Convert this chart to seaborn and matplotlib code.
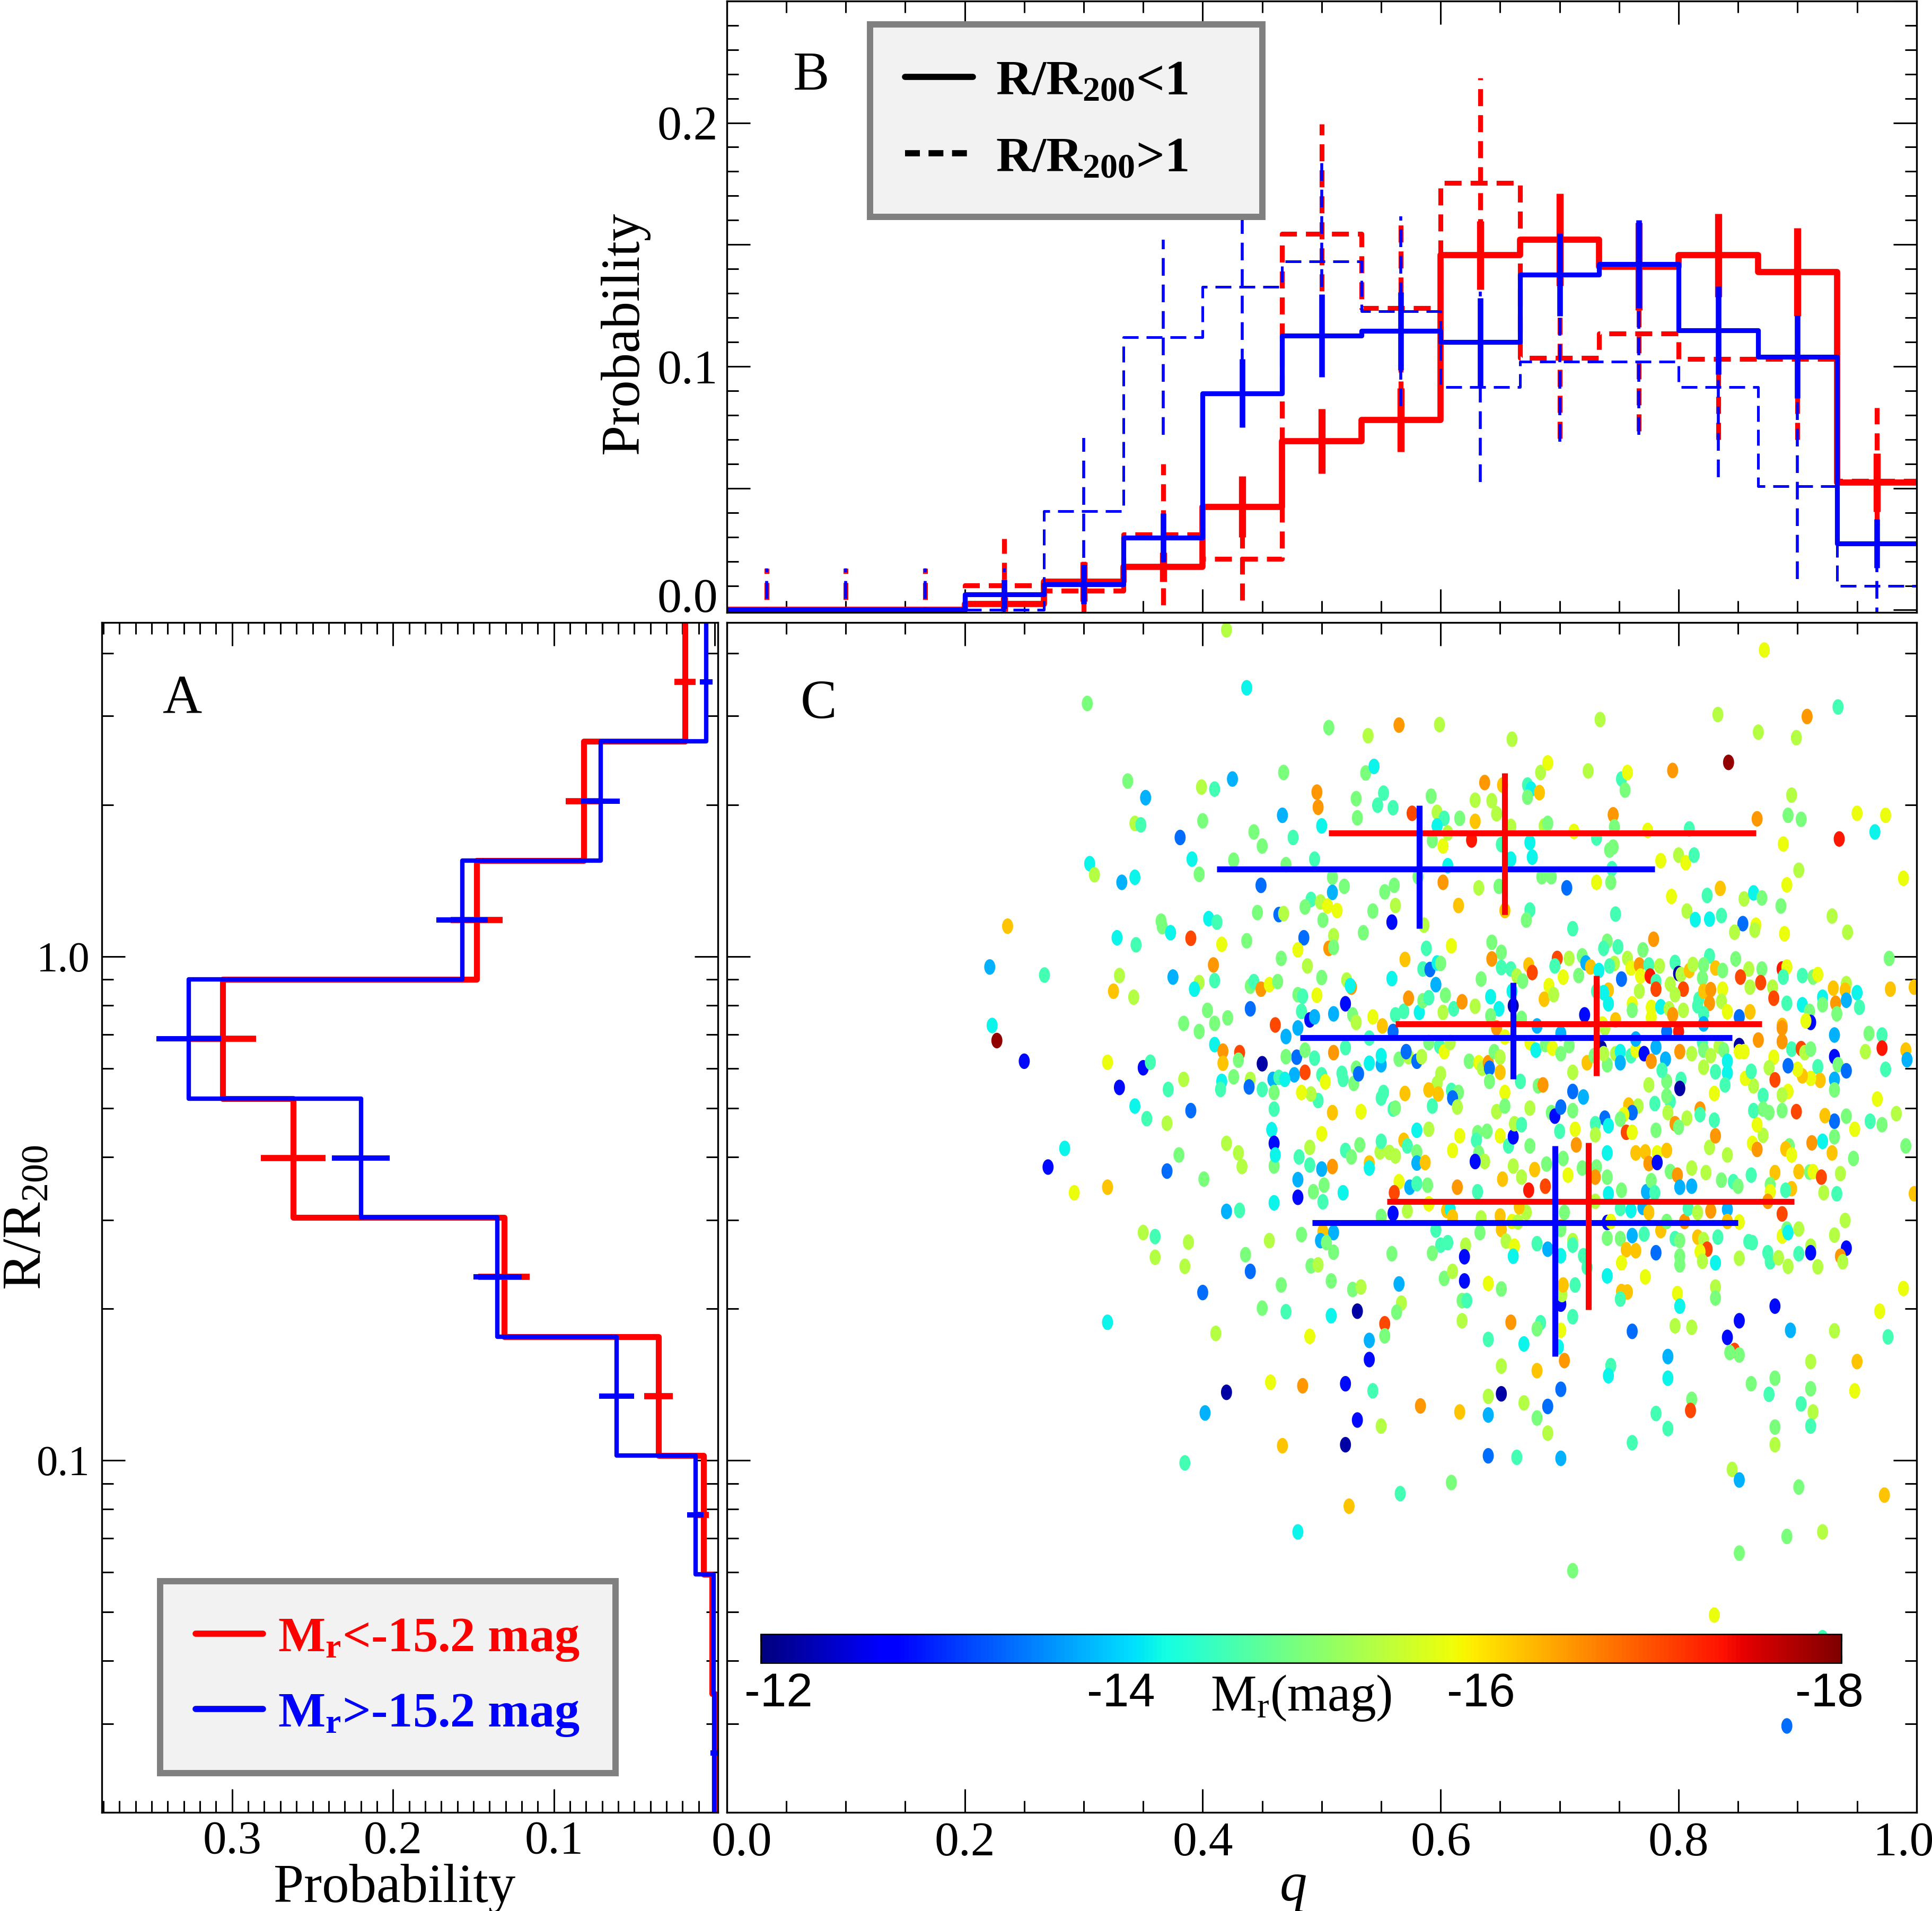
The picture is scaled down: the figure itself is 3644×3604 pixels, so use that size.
import numpy as np
import pandas as pd
import seaborn as sns
import matplotlib as mpl
import matplotlib.pyplot as plt
import matplotlib.transforms as mtrans
from matplotlib.path import Path
from matplotlib.lines import Line2D
from matplotlib.ticker import (MultipleLocator, FixedLocator, FixedFormatter,
                               LogLocator, FuncFormatter, NullFormatter)

sns.set_theme(style="white")
plt.rcParams['font.family'] = ['Liberation Serif', 'DejaVu Serif']
plt.rcParams['mathtext.fontset'] = 'custom'
plt.rcParams['mathtext.rm'] = 'Liberation Serif'
plt.rcParams['mathtext.it'] = 'Liberation Serif:italic'
plt.rcParams['mathtext.bf'] = 'Liberation Serif:bold'
plt.rcParams['axes.edgecolor'] = 'black'
plt.rcParams['axes.linewidth'] = 1.2
plt.rcParams['text.color'] = 'black'
plt.rcParams['axes.labelcolor'] = 'black'
plt.rcParams['xtick.color'] = 'black'
plt.rcParams['ytick.color'] = 'black'

# ---------------- panel A : R/R200 distribution (bins from small to large R)
r_edges = np.logspace(np.log10(0.02), np.log10(4.6), 11)
probA_bright = [0.000, 0.0015, 0.007, 0.035, 0.131, 0.262, 0.306, 0.148, 0.0815, 0.0185]
errA_bright = [0.0005, 0.0015, 0.0035, 0.009, 0.016, 0.020, 0.021, 0.016, 0.011, 0.0065]
probA_faint = [0.0005, 0.0008, 0.012, 0.061, 0.135, 0.220, 0.327, 0.157, 0.071, 0.0053]
errA_faint = [0.002, 0.001, 0.005, 0.011, 0.015, 0.018, 0.020, 0.016, 0.012, 0.004]

# ---------------- panel B : q distribution, inside / outside R200
q_edges = np.linspace(0, 1, 16)
probB_in_bright = [0, 0, 0, 0.0024, 0.0116, 0.0177, 0.0424, 0.0694, 0.078, 0.1456, 0.152, 0.141, 0.1456, 0.1387, 0.0524]
errB_in_bright = [0, 0, 0, 0.003, 0.008, 0.006, 0.0125, 0.0133, 0.013, 0.014, 0.019, 0.018, 0.017, 0.018, 0.012]
probB_in_faint = [0, 0, 0, 0.0065, 0.0105, 0.0298, 0.089, 0.1126, 0.1145, 0.110, 0.1376, 0.142, 0.1148, 0.104, 0.0274]
errB_in_faint = [0, 0, 0, 0.006, 0.008, 0.010, 0.014, 0.017, 0.016, 0.018, 0.017, 0.018, 0.018, 0.017, 0.010]
probB_out_bright = [0, 0, 0, 0.0102, 0.008, 0.031, 0.021, 0.1545, 0.124, 0.1753, 0.1035, 0.1134, 0.103, 0.103, 0.053]
errB_out_bright = [0.017, 0.017, 0.017, 0.019, 0.012, 0.029, 0.017, 0.045, 0.037, 0.043, 0.033, 0.040, 0.033, 0.033, 0.030]
probB_out_faint = [0, 0, 0, 0, 0.0406, 0.112, 0.1326, 0.143, 0.1226, 0.0916, 0.102, 0.102, 0.0916, 0.0508, 0.010]
errB_out_faint = [0.017, 0.017, 0.017, 0.017, 0.030, 0.040, 0.0435, 0.043, 0.039, 0.039, 0.033, 0.030, 0.037, 0.038, 0.027]

# ---------------- panel C : medians and ranges in three R bins
crossC_bright_q = [0.654, 0.731, 0.724]
crossC_bright_qlo = [0.506, 0.562, 0.555]
crossC_bright_qhi = [0.865, 0.870, 0.897]
crossC_bright_R = [1.758, 0.734, 0.326]
crossC_bright_Rlo = [1.21, 0.580, 0.199]
crossC_bright_Rhi = [2.31, 0.916, 0.427]
crossC_faint_q = [0.582, 0.661, 0.696]
crossC_faint_qlo = [0.412, 0.482, 0.492]
crossC_faint_qhi = [0.780, 0.845, 0.850]
crossC_faint_R = [1.49, 0.689, 0.296]
crossC_faint_Rlo = [1.137, 0.571, 0.161]
crossC_faint_Rhi = [1.995, 0.888, 0.421]

# galaxies: (q, log10 R/R200, M_r), grouped by region of the panel
pts_upper_left = [
    (0.420, 0.648, -15.4), (0.437, 0.533, -14.2), (0.303, 0.502, -15.0), (0.337, 0.348, -15.0), (0.352, 0.315, -13.8),
    (0.399, 0.336, -15.4), (0.410, 0.332, -14.6), (0.425, 0.352, -13.8), (0.343, 0.264, -15.4), (0.348, 0.261, -14.6),
    (0.381, 0.236, -13.4), (0.400, 0.269, -15.0), (0.443, 0.247, -15.0), (0.450, 0.219, -15.0), (0.391, 0.193, -14.2),
    (0.426, 0.191, -15.0), (0.397, 0.163, -15.0), (0.305, 0.184, -14.2), (0.309, 0.162, -15.4), (0.332, 0.147, -13.8),
    (0.343, 0.157, -14.2), (0.449, 0.141, -13.4), (0.236, 0.060, -16.2), (0.221, -0.021, -13.8), (0.267, -0.037, -14.6),
    (0.328, 0.037, -14.2), (0.344, 0.023, -14.6), (0.365, 0.070, -15.0), (0.366, 0.059, -15.0), (0.373, 0.047, -14.2),
    (0.390, 0.036, -17.0), (0.405, 0.075, -14.2), (0.412, 0.068, -14.6), (0.416, 0.024, -15.8), (0.437, 0.031, -15.0),
    (0.409, -0.017, -16.5), (0.446, 0.087, -15.0), (0.330, -0.038, -15.4), (0.325, -0.069, -16.2), (0.342, -0.081, -15.4),
    (0.375, -0.041, -13.8), (0.397, -0.052, -15.4), (0.393, -0.065, -14.2), (0.410, -0.048, -14.6), (0.440, -0.059, -15.0),
    (0.443, -0.050, -14.6), (0.449, -0.065, -16.5), (0.456, -0.056, -15.8), (0.440, -0.104, -13.4), (0.223, -0.137, -14.2),
    (0.227, -0.167, -17.9), (0.250, -0.208, -12.8), (0.320, -0.210, -15.8), (0.350, -0.221, -12.8), (0.356, -0.210, -14.6),
    (0.330, -0.260, -12.8), (0.384, -0.133, -15.0), (0.397, -0.149, -15.0), (0.404, -0.107, -15.0), (0.410, -0.133, -15.0),
    (0.421, -0.122, -15.0), (0.410, -0.175, -14.2), (0.417, -0.188, -16.5), (0.417, -0.212, -16.2), (0.431, -0.191, -17.0),
    (0.430, -0.206, -15.0), (0.450, -0.213, -12.2), (0.426, -0.239, -15.0), (0.416, -0.248, -14.2), (0.415, -0.264, -14.6),
    (0.384, -0.244, -15.4), (0.371, -0.264, -14.6), (0.343, -0.297, -14.2), (0.353, -0.322, -14.6), (0.370, -0.331, -15.4),
    (0.390, -0.306, -13.4), (0.440, -0.244, -15.4), (0.439, -0.259, -13.4), (0.450, -0.264, -14.6), (0.459, -0.244, -13.8),
    (0.460, -0.270, -15.0), (0.460, -0.303, -14.6), (0.458, -0.344, -14.2), (0.460, -0.371, -12.8), (0.420, -0.371, -15.4),
    (0.430, -0.390, -15.4), (0.433, -0.417, -15.4), (0.460, -0.416, -15.0), (0.284, -0.381, -14.2), (0.270, -0.418, -12.8),
    (0.380, -0.394, -15.0), (0.370, -0.426, -13.4), (0.401, -0.442, -15.0), (0.292, -0.469, -15.8), (0.320, -0.458, -16.2),
]
pts_upper_mid = [
    (0.506, 0.454, -15.0), (0.539, 0.438, -15.4), (0.565, 0.459, -16.5), (0.599, 0.460, -15.4), (0.660, 0.431, -15.4),
    (0.468, 0.365, -15.0), (0.537, 0.364, -15.0), (0.544, 0.377, -14.2), (0.496, 0.326, -16.5), (0.497, 0.296, -16.5),
    (0.467, 0.280, -13.8), (0.500, 0.259, -14.2), (0.476, 0.236, -14.6), (0.529, 0.313, -15.0), (0.530, 0.275, -15.0),
    (0.552, 0.324, -14.6), (0.547, 0.300, -14.6), (0.560, 0.295, -14.6), (0.576, 0.284, -17.0), (0.592, 0.318, -15.0),
    (0.597, 0.286, -15.4), (0.603, 0.274, -14.6), (0.597, 0.259, -14.2), (0.602, 0.219, -15.8), (0.593, 0.230, -15.0),
    (0.606, 0.245, -15.4), (0.616, 0.274, -15.0), (0.629, 0.310, -15.4), (0.629, 0.268, -16.2), (0.626, 0.231, -17.3),
    (0.637, 0.345, -16.5), (0.643, 0.309, -15.4), (0.647, 0.283, -15.4), (0.652, 0.340, -16.2), (0.659, 0.258, -15.4),
    (0.651, 0.222, -14.6), (0.659, 0.193, -14.2), (0.673, 0.340, -14.6), (0.676, 0.332, -14.2), (0.673, 0.316, -15.0),
    (0.683, 0.325, -16.2), (0.684, 0.365, -15.4), (0.690, 0.384, -15.8), (0.724, 0.368, -15.4), (0.687, 0.259, -15.4),
    (0.690, 0.264, -15.0), (0.675, 0.226, -14.2), (0.677, 0.197, -14.2), (0.712, 0.248, -15.8),
    (0.494, 0.193, -14.6), (0.470, 0.182, -15.0), (0.509, 0.157, -15.0), (0.509, 0.127, -13.8), (0.519, 0.139, -15.0),
    (0.491, 0.113, -14.6), (0.486, 0.098, -15.0), (0.499, 0.108, -15.4), (0.505, 0.100, -15.8), (0.513, 0.091, -15.8),
    (0.501, 0.072, -15.0), (0.464, 0.083, -13.4), (0.468, 0.085, -15.4), (0.553, 0.128, -15.0), (0.561, 0.141, -15.0),
    (0.562, 0.101, -15.4), (0.543, 0.090, -15.0), (0.559, 0.068, -12.8), (0.535, 0.047, -15.0), (0.510, 0.041, -15.4),
    (0.485, 0.037, -13.4), (0.480, 0.013, -15.8), (0.506, 0.016, -16.5), (0.510, 0.018, -15.0), (0.466, -0.004, -15.0),
    (0.488, -0.019, -15.4), (0.581, 0.158, -15.0), (0.586, 0.062, -15.4), (0.606, 0.180, -14.2), (0.602, 0.147, -16.5),
    (0.632, 0.136, -15.4), (0.649, 0.139, -15.0), (0.615, 0.101, -16.2), (0.654, 0.091, -16.2), (0.685, 0.158, -15.0),
    (0.693, 0.158, -15.0), (0.706, 0.136, -13.4), (0.675, 0.092, -14.6), (0.672, 0.072, -15.0), (0.711, 0.055, -14.6),
    (0.609, 0.021, -15.8), (0.588, 0.016, -14.6), (0.570, -0.006, -16.2), (0.585, -0.025, -14.6), (0.591, -0.026, -13.4),
    (0.597, -0.013, -14.2), (0.600, -0.014, -15.0), (0.596, -0.056, -13.8), (0.559, -0.044, -14.2), (0.643, 0.028, -15.0),
    (0.651, 0.008, -15.0), (0.643, -0.005, -16.5), (0.651, -0.022, -14.6), (0.659, -0.025, -14.6), (0.664, -0.039, -15.4),
    (0.669, -0.049, -15.0), (0.674, -0.017, -16.2), (0.677, -0.032, -17.0), (0.634, -0.045, -15.0), (0.698, -0.004, -17.0),
    (0.696, -0.019, -14.6), (0.708, -0.004, -15.4), (0.703, -0.041, -15.8), (0.716, -0.038, -15.0), (0.719, 0.001, -15.0),
    (0.722, -0.013, -13.8), (0.691, -0.058, -15.8), (0.687, -0.085, -16.2), (0.695, -0.076, -15.4), (0.660, -0.069, -14.2),
    (0.500, -0.042, -15.0), (0.463, -0.050, -15.0), (0.521, -0.047, -15.4), (0.525, -0.061, -16.5), (0.524, -0.058, -14.2),
    (0.496, -0.077, -15.8), (0.480, -0.076, -15.0), (0.484, -0.079, -14.6), (0.483, -0.109, -14.6), (0.520, -0.094, -12.8),
    (0.510, -0.114, -13.8), (0.526, -0.116, -15.0), (0.529, -0.131, -15.4), (0.490, -0.126, -12.8), (0.494, -0.120, -13.8),
    (0.461, -0.136, -17.0), (0.480, -0.142, -13.8), (0.470, -0.159, -13.8), (0.479, -0.200, -13.4), (0.470, -0.199, -15.0),
    (0.486, -0.186, -15.0), (0.494, -0.202, -14.6), (0.486, -0.230, -17.0), (0.477, -0.235, -13.8), (0.464, -0.240, -14.6),
    (0.469, -0.244, -14.2), (0.500, -0.235, -14.6), (0.503, -0.249, -15.8), (0.510, -0.191, -16.5), (0.520, -0.181, -14.6),
    (0.517, -0.232, -14.6), (0.518, -0.244, -14.6), (0.527, -0.252, -15.0), (0.529, -0.222, -15.0), (0.531, -0.233, -13.4),
    (0.540, -0.212, -14.2), (0.550, -0.215, -13.8), (0.550, -0.197, -14.2), (0.540, -0.162, -14.6), (0.543, -0.120, -15.8),
    (0.551, -0.138, -16.2), (0.560, -0.149, -13.4), (0.562, -0.116, -14.6), (0.569, -0.109, -14.6), (0.573, -0.083, -16.5),
    (0.582, -0.111, -14.2), (0.585, -0.088, -15.0), (0.590, -0.082, -14.6), (0.604, -0.077, -15.0), (0.602, -0.111, -15.4),
    (0.611, -0.104, -14.6), (0.618, -0.090, -16.5), (0.629, -0.099, -15.4), (0.642, -0.080, -14.2), (0.649, -0.104, -14.2),
    (0.642, -0.118, -15.0), (0.647, -0.142, -16.5), (0.661, -0.098, -12.2), (0.668, -0.123, -15.0), (0.681, -0.138, -13.8),
    (0.654, -0.160, -15.8), (0.675, -0.171, -15.8), (0.680, -0.186, -14.2), (0.688, -0.175, -15.0), (0.694, -0.182, -15.8),
    (0.701, -0.193, -15.0), (0.701, -0.153, -13.8), (0.708, -0.177, -15.0), (0.721, -0.116, -12.8), (0.723, -0.211, -16.2),
    (0.565, -0.204, -15.0), (0.573, -0.199, -15.4), (0.580, -0.208, -13.4), (0.584, -0.199, -15.4), (0.571, -0.189, -13.4),
    (0.590, -0.171, -15.0), (0.599, -0.178, -14.6), (0.603, -0.189, -15.8), (0.608, -0.171, -15.4), (0.624, -0.208, -15.0),
    (0.632, -0.211, -15.8), (0.635, -0.222, -15.4), (0.640, -0.211, -16.5), (0.641, -0.222, -13.4), (0.645, -0.189, -15.0),
    (0.650, -0.200, -15.4), (0.650, -0.230, -16.2), (0.641, -0.248, -15.0), (0.654, -0.270, -15.8), (0.667, -0.248, -14.6),
    (0.682, -0.257, -15.0), (0.686, -0.255, -16.5), (0.711, -0.230, -15.4), (0.711, -0.268, -13.4), (0.720, -0.279, -13.8),
    (0.600, -0.233, -15.4), (0.597, -0.252, -15.4), (0.590, -0.265, -16.2), (0.598, -0.273, -16.2), (0.609, -0.266, -14.6),
    (0.615, -0.270, -15.0), (0.610, -0.281, -13.4), (0.614, -0.299, -15.4), (0.593, -0.297, -14.6), (0.570, -0.272, -16.2),
    (0.552, -0.270, -14.6), (0.550, -0.281, -14.6), (0.560, -0.303, -14.6), (0.562, -0.301, -15.0), (0.533, -0.308, -15.8),
    (0.509, -0.310, -16.2), (0.497, -0.286, -14.6), (0.491, -0.273, -15.4), (0.483, -0.270, -15.8), (0.461, -0.394, -14.2),
    (0.500, -0.352, -15.8), (0.490, -0.379, -15.4), (0.481, -0.398, -14.6), (0.490, -0.414, -14.6), (0.500, -0.422, -13.8),
    (0.509, -0.417, -16.5), (0.480, -0.443, -13.8), (0.502, -0.454, -15.0), (0.493, -0.467, -15.0), (0.480, -0.478, -12.8),
    (0.518, -0.469, -14.2), (0.520, -0.385, -14.6), (0.525, -0.398, -15.0), (0.532, -0.374, -15.0), (0.540, -0.410, -16.2),
    (0.540, -0.420, -14.2), (0.549, -0.388, -15.4), (0.550, -0.367, -14.6), (0.557, -0.389, -15.4), (0.562, -0.396, -15.4),
    (0.569, -0.365, -16.2), (0.572, -0.376, -14.6), (0.580, -0.345, -14.2), (0.590, -0.343, -15.4), (0.580, -0.388, -15.0),
    (0.580, -0.410, -13.8), (0.587, -0.409, -16.2), (0.565, -0.447, -15.8), (0.574, -0.458, -13.8), (0.580, -0.451, -14.6),
    (0.589, -0.454, -15.0), (0.561, -0.469, -17.0), (0.610, -0.385, -15.8), (0.616, -0.356, -15.8), (0.614, -0.458, -16.5),
    (0.631, -0.350, -15.0), (0.630, -0.365, -14.6), (0.639, -0.347, -15.0), (0.632, -0.390, -15.0), (0.637, -0.407, -15.4),
    (0.629, -0.407, -12.8), (0.631, -0.467, -14.6), (0.647, -0.308, -15.4), (0.654, -0.297, -15.0), (0.650, -0.356, -15.8),
    (0.657, -0.376, -14.6), (0.661, -0.358, -12.8), (0.662, -0.332, -15.4), (0.668, -0.334, -14.6), (0.661, -0.416, -15.4),
    (0.652, -0.442, -16.2), (0.668, -0.438, -15.4), (0.675, -0.301, -15.4), (0.675, -0.376, -15.0), (0.679, -0.423, -16.2),
    (0.674, -0.464, -17.3), (0.688, -0.456, -17.0), (0.689, -0.412, -15.0), (0.693, -0.310, -15.0), (0.696, -0.317, -12.8),
    (0.701, -0.299, -13.4), (0.700, -0.347, -14.6), (0.703, -0.401, -15.0), (0.707, -0.434, -15.8), (0.713, -0.343, -15.8),
    (0.714, -0.374, -16.5), (0.711, -0.306, -15.0), (0.719, -0.420, -15.0),
]
pts_upper_right = [
    (0.872, 0.608, -15.8), (0.934, 0.495, -14.6), (0.908, 0.476, -16.5), (0.833, 0.480, -15.4), (0.867, 0.445, -15.4),
    (0.899, 0.434, -15.4), (0.734, 0.470, -15.4), (0.842, 0.385, -17.9), (0.795, 0.369, -16.5), (0.752, 0.352, -14.6),
    (0.757, 0.365, -15.8), (0.755, 0.330, -15.0), (0.895, 0.320, -15.4), (0.745, 0.281, -16.5), (0.866, 0.273, -16.5),
    (0.892, 0.280, -15.0), (0.903, 0.272, -15.0), (0.950, 0.284, -15.8), (0.974, 0.280, -15.8), (0.935, 0.233, -17.3),
    (0.965, 0.247, -14.2), (0.888, 0.223, -15.8), (0.746, 0.257, -15.0), (0.774, 0.250, -15.8), (0.809, 0.253, -14.6),
    (0.731, 0.235, -14.6), (0.742, 0.211, -15.0), (0.745, 0.217, -15.0), (0.785, 0.190, -15.8), (0.800, 0.201, -15.4),
    (0.806, 0.186, -15.8), (0.813, 0.201, -14.6), (0.744, 0.174, -14.6), (0.731, 0.147, -15.8), (0.743, 0.147, -15.0),
    (0.901, 0.171, -15.4), (0.891, 0.142, -15.8), (0.989, 0.155, -15.8), (0.794, 0.119, -15.8), (0.824, 0.121, -14.6),
    (0.835, 0.135, -16.2), (0.855, 0.114, -15.4), (0.863, 0.126, -14.2), (0.870, 0.116, -15.0), (0.886, 0.100, -15.0),
    (0.747, 0.084, -14.6), (0.807, 0.090, -15.4), (0.814, 0.073, -14.2), (0.826, 0.074, -14.2), (0.836, 0.081, -14.6),
    (0.854, 0.065, -13.4), (0.865, 0.062, -15.8), (0.864, 0.052, -15.4), (0.847, 0.048, -15.4), (0.889, 0.045, -15.8),
    (0.929, 0.080, -15.4), (0.942, 0.048, -15.4), (0.977, -0.004, -15.0), (0.779, 0.034, -16.5), (0.740, 0.030, -15.0),
    (0.737, 0.016, -14.6), (0.749, 0.019, -14.6), (0.770, 0.013, -15.0), (0.826, 0.001, -14.6), (0.848, -0.005, -15.0),
    (0.746, -0.014, -15.4), (0.757, -0.004, -15.4), (0.742, -0.019, -14.6), (0.726, -0.021, -16.2), (0.733, -0.028, -14.2),
    (0.752, -0.045, -13.4), (0.760, -0.023, -15.8), (0.767, -0.017, -16.5), (0.775, -0.017, -14.6), (0.768, -0.039, -15.8),
    (0.776, -0.039, -17.3), (0.784, -0.019, -15.4), (0.781, -0.050, -14.6), (0.781, -0.065, -17.0), (0.797, -0.012, -14.6),
    (0.800, -0.034, -12.2), (0.802, -0.036, -15.4), (0.809, -0.028, -16.2), (0.812, -0.016, -15.4), (0.821, -0.017, -15.0),
    (0.820, -0.043, -15.0), (0.831, -0.023, -16.2), (0.837, -0.028, -15.0), (0.859, -0.025, -15.4), (0.870, -0.025, -15.0),
    (0.852, -0.041, -17.0), (0.869, -0.052, -17.0), (0.879, -0.061, -15.4), (0.887, -0.025, -17.3), (0.891, -0.021, -15.8),
    (0.888, -0.041, -14.6), (0.904, -0.038, -14.6), (0.913, -0.041, -15.0), (0.917, -0.036, -15.8), (0.930, -0.063, -16.2),
    (0.941, -0.054, -15.4), (0.940, -0.067, -16.2), (0.950, -0.072, -14.2), (0.978, -0.065, -16.2), (0.998, -0.061, -16.2),
    (0.731, -0.069, -14.6), (0.741, -0.067, -16.2), (0.737, -0.072, -14.2), (0.741, -0.094, -14.2), (0.767, -0.069, -15.4),
    (0.804, -0.065, -17.0), (0.793, -0.055, -15.4), (0.797, -0.076, -15.4), (0.817, -0.085, -14.6), (0.821, -0.069, -16.2),
    (0.827, -0.066, -16.5), (0.826, -0.093, -16.5), (0.837, -0.065, -15.8), (0.836, -0.089, -15.4), (0.860, -0.061, -15.4),
    (0.880, -0.083, -17.0), (0.891, -0.093, -14.6), (0.904, -0.096, -14.2), (0.921, -0.081, -14.2), (0.921, -0.096, -15.0),
    (0.932, -0.093, -16.5), (0.941, -0.087, -13.8), (0.952, -0.101, -14.6), (0.761, -0.094, -15.8), (0.761, -0.107, -15.0),
    (0.777, -0.101, -15.8), (0.785, -0.100, -14.2), (0.792, -0.104, -15.4), (0.804, -0.107, -15.4), (0.795, -0.116, -16.5),
    (0.777, -0.121, -15.8), (0.816, -0.098, -14.6), (0.821, -0.114, -14.6), (0.841, -0.110, -15.8), (0.851, -0.120, -13.4),
    (0.860, -0.110, -16.2), (0.887, -0.137, -16.2), (0.887, -0.142, -16.5), (0.910, -0.109, -15.0), (0.911, -0.131, -12.8),
    (0.907, -0.128, -15.8), (0.933, -0.114, -15.0), (0.736, -0.134, -15.8), (0.747, -0.126, -16.2), (0.738, -0.142, -15.4),
    (0.740, -0.215, -15.0), (0.729, -0.197, -15.0), (0.735, -0.182, -12.2), (0.737, -0.193, -15.4), (0.747, -0.193, -15.4),
    (0.751, -0.189, -14.2), (0.751, -0.211, -13.8), (0.760, -0.197, -14.6), (0.764, -0.186, -15.8), (0.764, -0.164, -13.8),
    (0.771, -0.193, -12.8), (0.777, -0.208, -16.5), (0.781, -0.180, -13.8), (0.789, -0.204, -13.8), (0.790, -0.149, -13.4),
    (0.800, -0.149, -17.3), (0.801, -0.189, -16.5), (0.811, -0.193, -15.4), (0.821, -0.134, -13.8), (0.820, -0.171, -14.6),
    (0.821, -0.186, -15.0), (0.827, -0.197, -15.4), (0.834, -0.178, -15.4), (0.838, -0.186, -15.0), (0.841, -0.208, -14.2),
    (0.851, -0.177, -12.2), (0.851, -0.189, -15.8), (0.855, -0.189, -15.8), (0.867, -0.166, -16.5), (0.880, -0.200, -15.8),
    (0.887, -0.169, -16.5), (0.895, -0.184, -14.6), (0.903, -0.183, -17.0), (0.906, -0.191, -15.4), (0.911, -0.184, -15.0),
    (0.931, -0.156, -13.8), (0.931, -0.199, -12.8), (0.934, -0.215, -15.0), (0.960, -0.153, -15.0), (0.971, -0.156, -14.6),
    (0.957, -0.189, -15.4), (0.971, -0.182, -17.3), (0.991, -0.186, -16.2), (0.992, -0.205, -13.8), (0.974, -0.224, -14.6),
    (0.941, -0.227, -13.4), (0.931, -0.244, -13.8), (0.931, -0.265, -15.0), (0.917, -0.219, -14.6), (0.919, -0.246, -16.2),
    (0.911, -0.242, -15.8), (0.904, -0.237, -16.2), (0.900, -0.224, -15.8), (0.892, -0.217, -13.4), (0.876, -0.221, -15.4),
    (0.881, -0.245, -17.0), (0.892, -0.268, -15.8), (0.887, -0.275, -15.4), (0.871, -0.276, -14.6), (0.863, -0.257, -15.4),
    (0.856, -0.242, -15.8), (0.861, -0.228, -14.6), (0.841, -0.231, -14.2), (0.839, -0.255, -14.6), (0.831, -0.229, -14.6),
    (0.830, -0.272, -15.8), (0.821, -0.220, -15.4), (0.818, -0.303, -16.5), (0.818, -0.314, -14.6), (0.830, -0.325, -14.6),
    (0.807, -0.321, -15.4), (0.802, -0.244, -14.6), (0.801, -0.262, -12.2), (0.793, -0.288, -14.6), (0.790, -0.277, -15.0),
    (0.791, -0.310, -15.4), (0.797, -0.332, -16.5), (0.800, -0.339, -15.0), (0.790, -0.248, -15.0), (0.786, -0.226, -14.6),
    (0.775, -0.255, -15.4), (0.780, -0.292, -14.6), (0.766, -0.297, -15.4), (0.758, -0.295, -16.2), (0.761, -0.310, -13.4),
    (0.754, -0.314, -15.8), (0.751, -0.323, -15.0), (0.738, -0.321, -13.4), (0.730, -0.332, -14.6), (0.741, -0.336, -14.2),
    (0.730, -0.354, -15.4), (0.756, -0.349, -17.0), (0.761, -0.349, -15.8), (0.781, -0.345, -15.0), (0.740, -0.390, -14.2),
    (0.764, -0.390, -16.2), (0.772, -0.388, -16.2), (0.775, -0.411, -16.5), (0.782, -0.390, -15.8), (0.790, -0.385, -16.2),
    (0.782, -0.409, -12.8), (0.731, -0.418, -15.0), (0.730, -0.438, -16.5), (0.740, -0.438, -15.0), (0.752, -0.464, -15.0),
    (0.741, -0.471, -14.2), (0.773, -0.467, -13.8), (0.777, -0.445, -15.0), (0.780, -0.469, -14.6), (0.793, -0.427, -15.0),
    (0.799, -0.434, -16.5), (0.801, -0.458, -13.8), (0.811, -0.456, -13.8), (0.811, -0.420, -15.4), (0.823, -0.429, -15.4),
    (0.826, -0.379, -15.4), (0.831, -0.356, -16.5), (0.841, -0.394, -15.4), (0.836, -0.444, -15.0), (0.846, -0.447, -14.6),
    (0.850, -0.456, -15.0), (0.861, -0.434, -14.6), (0.862, -0.371, -15.8), (0.866, -0.383, -16.5), (0.871, -0.355, -15.4),
    (0.866, -0.334, -15.8), (0.863, -0.306, -14.6), (0.871, -0.303, -15.0), (0.876, -0.310, -15.0), (0.887, -0.306, -15.0),
    (0.899, -0.308, -17.0), (0.893, -0.376, -15.0), (0.890, -0.382, -16.2), (0.895, -0.394, -15.8), (0.881, -0.429, -16.2),
    (0.877, -0.453, -15.0), (0.877, -0.467, -15.8), (0.895, -0.461, -16.2), (0.890, -0.464, -14.6), (0.901, -0.427, -16.2),
    (0.910, -0.428, -15.0), (0.913, -0.427, -15.8), (0.912, -0.370, -16.5), (0.921, -0.367, -14.2), (0.920, -0.438, -17.0),
    (0.929, -0.390, -16.2), (0.931, -0.358, -15.0), (0.931, -0.327, -13.4), (0.923, -0.316, -16.2), (0.941, -0.317, -15.0),
    (0.948, -0.343, -15.8), (0.947, -0.401, -15.0), (0.936, -0.431, -15.4), (0.961, -0.327, -14.6), (0.971, -0.334, -15.0),
    (0.967, -0.283, -15.8), (0.983, -0.312, -15.4), (0.991, -0.376, -15.0), (0.922, -0.469, -15.4), (0.933, -0.471, -14.6),
    (0.998, -0.471, -16.2),
]
pts_lower_left = [
    (0.350, -0.548, -15.4), (0.360, -0.556, -14.6), (0.360, -0.597, -15.4), (0.388, -0.567, -15.4), (0.385, -0.615, -15.4),
    (0.420, -0.506, -13.8), (0.431, -0.504, -14.6), (0.456, -0.564, -15.4), (0.436, -0.592, -15.0), (0.440, -0.625, -13.4),
    (0.400, -0.667, -13.4), (0.450, -0.698, -15.0), (0.320, -0.726, -14.2), (0.411, -0.748, -15.4), (0.457, -0.845, -15.8),
    (0.420, -0.865, -12.2), (0.402, -0.906, -13.8), (0.385, -1.005, -14.6),
]
pts_lower_mid = [
    (0.460, -0.489, -14.2), (0.501, -0.487, -14.6), (0.550, -0.516, -15.0), (0.560, -0.510, -12.8), (0.572, -0.505, -15.4),
    (0.590, -0.491, -15.8), (0.605, -0.504, -16.2), (0.608, -0.502, -14.2), (0.610, -0.517, -16.2), (0.634, -0.519, -15.4),
    (0.650, -0.515, -16.2), (0.651, -0.542, -16.2), (0.660, -0.526, -15.8), (0.665, -0.527, -15.4), (0.672, -0.508, -15.4),
    (0.666, -0.497, -16.2), (0.704, -0.508, -15.0), (0.701, -0.537, -16.2), (0.701, -0.542, -15.0), (0.596, -0.543, -14.6),
    (0.600, -0.573, -14.6), (0.606, -0.568, -14.6), (0.593, -0.589, -15.0), (0.621, -0.573, -15.4), (0.620, -0.596, -12.8),
    (0.633, -0.548, -15.0), (0.655, -0.565, -15.4), (0.662, -0.575, -15.8), (0.661, -0.595, -14.2), (0.681, -0.570, -14.6),
    (0.690, -0.581, -13.8), (0.701, -0.594, -14.2), (0.711, -0.564, -15.4), (0.711, -0.573, -14.6), (0.720, -0.594, -14.6),
    (0.723, -0.617, -14.6), (0.501, -0.546, -16.2), (0.510, -0.548, -13.8), (0.499, -0.564, -13.8), (0.504, -0.568, -15.0),
    (0.510, -0.587, -15.0), (0.483, -0.552, -15.0), (0.491, -0.614, -15.0), (0.497, -0.612, -15.4), (0.559, -0.590, -15.0),
    (0.466, -0.652, -15.0), (0.508, -0.644, -15.0), (0.526, -0.661, -15.0), (0.533, -0.656, -15.4), (0.565, -0.650, -13.8),
    (0.567, -0.688, -15.4), (0.563, -0.706, -15.0), (0.470, -0.705, -14.6), (0.508, -0.713, -14.2), (0.530, -0.704, -12.2),
    (0.553, -0.729, -17.0), (0.553, -0.753, -15.0), (0.490, -0.754, -15.8), (0.540, -0.762, -13.8), (0.540, -0.800, -12.8),
    (0.603, -0.639, -15.0), (0.610, -0.625, -15.4), (0.620, -0.644, -12.8), (0.618, -0.683, -15.0), (0.622, -0.683, -14.6),
    (0.618, -0.723, -15.4), (0.640, -0.649, -15.8), (0.651, -0.660, -15.0), (0.659, -0.726, -16.5), (0.640, -0.760, -14.6),
    (0.651, -0.813, -15.4), (0.670, -0.769, -14.2), (0.681, -0.822, -16.2), (0.684, -0.727, -14.6), (0.681, -0.739, -15.0),
    (0.701, -0.742, -15.8), (0.699, -0.775, -14.2), (0.701, -0.690, -12.8), (0.702, -0.671, -15.4), (0.703, -0.652, -16.2),
    (0.713, -0.652, -14.6), (0.711, -0.715, -14.6), (0.704, -0.802, -16.5), (0.701, -0.859, -13.4), (0.690, -0.893, -13.4),
    (0.681, -0.916, -15.0), (0.690, -0.946, -15.4), (0.670, -0.886, -15.4), (0.651, -0.868, -12.2), (0.640, -0.873, -15.4),
    (0.640, -0.910, -13.8), (0.640, -0.991, -13.4), (0.664, -0.994, -14.6), (0.701, -0.996, -13.8), (0.711, -1.219, -15.0),
    (0.616, -0.904, -16.2), (0.609, -1.044, -15.0), (0.583, -0.892, -16.5), (0.566, -1.066, -14.6), (0.550, -0.932, -15.4),
    (0.530, -0.920, -12.8), (0.520, -0.848, -12.8), (0.520, -0.969, -12.2), (0.543, -0.862, -14.6), (0.484, -0.852, -16.5),
    (0.467, -0.971, -16.2), (0.523, -1.091, -16.2), (0.480, -1.142, -14.2),
]
pts_lower_right = [
    (0.730, -0.486, -15.4), (0.751, -0.500, -14.6), (0.760, -0.504, -14.2), (0.770, -0.498, -13.8), (0.775, -0.508, -16.2),
    (0.740, -0.528, -12.8), (0.743, -0.526, -15.8), (0.740, -0.559, -15.0), (0.751, -0.560, -15.0), (0.761, -0.554, -13.8),
    (0.771, -0.551, -14.6), (0.756, -0.582, -16.2), (0.764, -0.584, -16.2), (0.752, -0.608, -15.8), (0.781, -0.588, -13.4),
    (0.785, -0.544, -16.2), (0.790, -0.526, -15.0), (0.797, -0.560, -14.6), (0.801, -0.564, -15.0), (0.805, -0.526, -16.5),
    (0.808, -0.500, -14.6), (0.816, -0.508, -15.4), (0.827, -0.505, -16.5), (0.816, -0.557, -16.2), (0.821, -0.562, -15.4),
    (0.824, -0.581, -17.0), (0.818, -0.586, -15.8), (0.820, -0.605, -15.4), (0.833, -0.557, -14.6), (0.831, -0.608, -14.2),
    (0.801, -0.595, -15.0), (0.801, -0.612, -15.0), (0.841, -0.502, -13.8), (0.841, -0.526, -16.2), (0.851, -0.527, -15.8),
    (0.851, -0.599, -15.4), (0.859, -0.566, -14.6), (0.862, -0.568, -14.6), (0.875, -0.588, -14.6), (0.877, -0.606, -14.6),
    (0.884, -0.598, -15.4), (0.887, -0.555, -15.8), (0.891, -0.541, -15.0), (0.892, -0.548, -14.2), (0.887, -0.511, -17.0),
    (0.875, -0.486, -16.5), (0.892, -0.615, -15.4), (0.901, -0.541, -15.4), (0.901, -0.590, -14.6), (0.911, -0.575, -15.4),
    (0.911, -0.588, -12.8), (0.917, -0.616, -15.4), (0.931, -0.553, -15.4), (0.940, -0.524, -15.4), (0.941, -0.579, -12.8),
    (0.936, -0.595, -16.5), (0.938, -0.606, -15.4), (0.989, -0.659, -15.8), (0.969, -0.704, -15.8), (0.976, -0.755, -14.6),
    (0.950, -0.804, -16.2), (0.948, -0.862, -15.8), (0.931, -0.743, -15.4), (0.894, -0.742, -13.8), (0.881, -0.694, -12.8),
    (0.851, -0.723, -12.8), (0.841, -0.756, -12.8), (0.847, -0.782, -17.0), (0.843, -0.786, -15.0), (0.851, -0.791, -15.0),
    (0.911, -0.804, -15.4), (0.911, -0.858, -15.0), (0.913, -0.904, -15.4), (0.911, -0.932, -14.6), (0.903, -0.888, -14.6),
    (0.881, -0.837, -15.0), (0.876, -0.869, -14.6), (0.881, -0.934, -15.0), (0.881, -0.969, -15.4), (0.861, -0.848, -15.0),
    (0.831, -0.656, -15.4), (0.831, -0.678, -15.0), (0.799, -0.669, -15.8), (0.801, -0.694, -14.2), (0.797, -0.733, -15.4),
    (0.811, -0.736, -15.4), (0.791, -0.794, -13.8), (0.791, -0.837, -14.2), (0.811, -0.879, -15.0), (0.810, -0.901, -17.0),
    (0.781, -0.907, -14.6), (0.791, -0.937, -14.6), (0.761, -0.965, -14.6), (0.761, -0.744, -13.4), (0.743, -0.812, -14.6),
    (0.741, -0.832, -14.2), (0.740, -0.634, -14.2), (0.772, -0.636, -15.8), (0.752, -0.665, -16.2), (0.757, -0.666, -16.2),
    (0.751, -0.680, -14.6), (0.845, -1.018, -15.4), (0.851, -1.039, -13.8), (0.901, -1.053, -15.0), (0.973, -1.069, -16.2),
    (0.891, -1.151, -15.0), (0.921, -1.142, -15.4), (0.851, -1.184, -15.0), (0.830, -1.307, -15.8), (0.891, -1.527, -13.4),
    (0.921, -1.352, -14.6),
]

# ---------------- figure
fig = plt.figure(figsize=(18.22, 18.02), dpi=200)
axB = fig.add_axes([0.3762, 0.6795, 0.6158, 0.3200])
axA = fig.add_axes([0.0527, 0.0515, 0.3189, 0.6228])
axC = fig.add_axes([0.3762, 0.0515, 0.6158, 0.6228])

# ---- panel B
q_mid = 0.5 * (q_edges[:-1] + q_edges[1:])
dash_red = (0, (3.5, 1.85))
dash_blue = (0, (6.0, 3.0))
series_B = [
    (probB_in_bright, errB_in_bright, 'red', 4.2, 4.8, '-'),
    (probB_out_bright, errB_out_bright, 'red', 3.3, 3.3, dash_red),
    (probB_in_faint, errB_in_faint, 'blue', 3.3, 3.8, '-'),
    (probB_out_faint, errB_out_faint, 'blue', 1.8, 2.0, dash_blue),
]
for prob, err, col, lw, elw, ls in series_B:
    sns.histplot(x=q_mid, weights=prob, bins=q_edges.tolist(), element='step', fill=False,
                 color=col, linewidth=lw, linestyle=ls, ax=axB)
    p = np.array(prob)
    e = np.array(err)
    axB.vlines(q_mid, p - e, p + e, colors=col, linewidth=elw, linestyles=[ls])

axB.set_xlim(0, 1)
axB.set_ylim(-0.001, 0.25)
axB.xaxis.set_major_locator(FixedLocator([0, 0.2, 0.4, 0.6, 0.8, 1.0]))
axB.xaxis.set_minor_locator(MultipleLocator(0.05))
axB.yaxis.set_major_locator(FixedLocator([0, 0.05, 0.1, 0.15, 0.2, 0.25]))
axB.yaxis.set_major_formatter(FixedFormatter(['0.0', '', '0.1', '', '0.2', '']))
axB.yaxis.set_minor_locator(MultipleLocator(0.01))
axB.set_xlabel('')
axB.set_ylabel('Probability', fontsize=37)
axB.yaxis.set_label_coords(-0.086, 0.457)
axB.yaxis.label.set_va('center')
axB.text(0.071, 0.877, 'B', transform=axB.transAxes, ha='center', va='center', fontsize=37)

legB = axB.legend(handles=[Line2D([], [], color='black', lw=4.2),
                           Line2D([], [], color='black', lw=4.2, ls=(0, (2.4, 1.4)))],
                  labels=[r'R/R$_\mathbf{200}$<1', r'R/R$_\mathbf{200}$>1'],
                  loc='upper left', bbox_to_anchor=(0.1203, 0.0, 0.330, 0.962), mode='expand',
                  borderaxespad=0, prop={'weight': 'bold', 'size': 34}, frameon=True, fancybox=False,
                  edgecolor='#808080', facecolor='#f2f2f2', framealpha=1,
                  handlelength=1.36, handletextpad=0.45, borderpad=0.7, labelspacing=0.62)
legB.get_frame().set_linewidth(4.3)

# ---- panel A
r_mid = np.sqrt(r_edges[:-1] * r_edges[1:])
series_A = [
    (probA_bright, errA_bright, 'red', 4.0, 4.2),
    (probA_faint, errA_faint, 'blue', 3.0, 3.6),
]
for prob, err, col, lw, elw in series_A:
    sns.histplot(y=r_mid, weights=prob, bins=r_edges.tolist(), element='step', fill=False,
                 color=col, linewidth=lw, ax=axA)
    p = np.array(prob)
    e = np.array(err)
    axA.hlines(r_mid, p - e, p + e, colors=col, linewidth=elw)

axA.set_yscale('log')
axA.set_ylim(0.02, 4.6)
axA.set_xlim(0.381, -0.002)
axA.xaxis.set_major_locator(FixedLocator([0.0, 0.1, 0.2, 0.3]))
axA.xaxis.set_major_formatter(FixedFormatter(['', '0.1', '0.2', '0.3']))
axA.xaxis.set_minor_locator(MultipleLocator(0.01))
axA.yaxis.set_major_locator(LogLocator(base=10))
axA.yaxis.set_major_formatter(FuncFormatter(lambda v, pos: f'{v:.1f}'))
axA.yaxis.set_minor_locator(LogLocator(base=10, subs=np.arange(2, 10)))
axA.yaxis.set_minor_formatter(NullFormatter())
axA.set_xlabel('Probability', fontsize=37)
axA.xaxis.set_label_coords(0.475, -0.064)
axA.xaxis.label.set_va('center')
axA.set_ylabel(r'R/R$_{\rm 200}$', fontsize=37)
axA.yaxis.set_label_coords(-0.121, 0.5)
axA.yaxis.label.set_va('center')
axA.text(0.131, 0.935, 'A', transform=axA.transAxes, ha='center', va='center', fontsize=37)

legA = axA.legend(handles=[Line2D([], [], color='red', lw=4.2), Line2D([], [], color='blue', lw=4.2)],
                  labels=[r'M$_\mathbf{r}$<-15.2 mag', r'M$_\mathbf{r}$>-15.2 mag'],
                  loc='lower left', bbox_to_anchor=(0.095, 0.033), borderaxespad=0,
                  prop={'weight': 'bold', 'size': 34}, labelcolor='linecolor',
                  frameon=True, fancybox=False, edgecolor='#808080', facecolor='#f2f2f2',
                  framealpha=1, handlelength=1.35, handletextpad=0.3, borderpad=0.7,
                  labelspacing=0.57)
legA.get_frame().set_linewidth(4.3)

# ---- panel C
pts = pts_upper_left + pts_upper_mid + pts_upper_right + pts_lower_left + pts_lower_mid + pts_lower_right
dfC = pd.DataFrame(pts, columns=['q', 'logR', 'Mr'])
dfC['R'] = 10 ** dfC['logR']

theta = np.linspace(0, 2 * np.pi, 41)
ell_marker = mpl.markers.MarkerStyle(Path(np.column_stack([0.71 * np.cos(theta), np.sin(theta)]), closed=True))
sns.scatterplot(data=dfC, x='q', y='R', hue='Mr', palette='jet_r', hue_norm=(-18, -12),
                marker=ell_marker, s=112, linewidth=0, edgecolor='none', legend=False, ax=axC)

for col, qlo, qhi, R in [('blue', crossC_faint_qlo, crossC_faint_qhi, crossC_faint_R),
                         ('red', crossC_bright_qlo, crossC_bright_qhi, crossC_bright_R)]:
    axC.hlines(R, qlo, qhi, colors=col, linewidth=4.0, zorder=3)
for col, q, Rlo, Rhi in [('blue', crossC_faint_q, crossC_faint_Rlo, crossC_faint_Rhi),
                         ('red', crossC_bright_q, crossC_bright_Rlo, crossC_bright_Rhi)]:
    axC.vlines(q, Rlo, Rhi, colors=col, linewidth=4.0, zorder=3)

axC.set_yscale('log')
axC.set_ylim(0.02, 4.6)
axC.set_xlim(0, 1)
axC.xaxis.set_major_locator(FixedLocator([0, 0.2, 0.4, 0.6, 0.8, 1.0]))
axC.xaxis.set_major_formatter(FuncFormatter(lambda v, pos: f'{v:.1f}'))
axC.xaxis.set_minor_locator(MultipleLocator(0.05))
axC.yaxis.set_major_locator(LogLocator(base=10))
axC.yaxis.set_minor_locator(LogLocator(base=10, subs=np.arange(2, 10)))
axC.set_xlabel('q', fontsize=37, fontstyle='italic')
axC.xaxis.set_label_coords(0.476, -0.0625)
axC.xaxis.label.set_va('center')
axC.set_ylabel('')
axC.text(0.077, 0.931, 'C', transform=axC.transAxes, ha='center', va='center', fontsize=37)

# ---- ticks for all panels
for ax in (axA, axB, axC):
    ax.tick_params(which='both', direction='in', top=True, bottom=True, left=True, right=True,
                   width=1.1, colors='black')
    ax.tick_params(which='major', length=16, labelsize=33, pad=6)
    ax.tick_params(which='minor', length=8)
    for s in ax.spines.values():
        s.set_visible(True)
        s.set_color('black')
        s.set_linewidth(1.2)
axA.tick_params(axis='y', which='major', pad=8, labelsize=29)
axA.tick_params(axis='x', which='major', labelsize=32, pad=5)
axB.tick_params(labelbottom=False)
axC.tick_params(labelleft=False)

# ---- colour bar
cax = fig.add_axes([0.3938, 0.1299, 0.5593, 0.0150])
sm = mpl.cm.ScalarMappable(norm=mpl.colors.Normalize(-18, -12), cmap='jet_r')
cb = fig.colorbar(sm, cax=cax, orientation='horizontal')
cb.ax.invert_xaxis()
cb.set_ticks([-12, -14, -16, -18], labels=['-12', '-14', '-16', '-18'],
             fontfamily='Liberation Sans', fontsize=32)
cb.minorlocator = MultipleLocator(0.5)
cb.outline.set_linewidth(1.0)
cax.tick_params(which='both', direction='in', top=True, bottom=True, length=5, width=1.0,
                colors='black', pad=6)
cax.text(0.5, -1.24, r'M$_{\rm r}$(mag)', transform=cax.transAxes, ha='center', va='center', fontsize=35)

# ---- small label nudges (applied last, tick_params would reset them)
def nudge(tick, dx_pt, dy_pt):
    lab = tick.label1
    lab.set_transform(lab.get_transform() + mtrans.ScaledTranslation(dx_pt / 72, dy_pt / 72, fig.dpi_scale_trans))

nudge(axB.yaxis.get_major_ticks()[0], 0, 10)
ticksC = axC.xaxis.get_major_ticks()
nudge(ticksC[0], 10, 0)
nudge(ticksC[-1], -9, 0)
ticksCB = cax.xaxis.get_major_ticks()
nudge(ticksCB[0], 12, 0)
nudge(ticksCB[-1], -8, 0)

fig.savefig('out.png', dpi=200)
